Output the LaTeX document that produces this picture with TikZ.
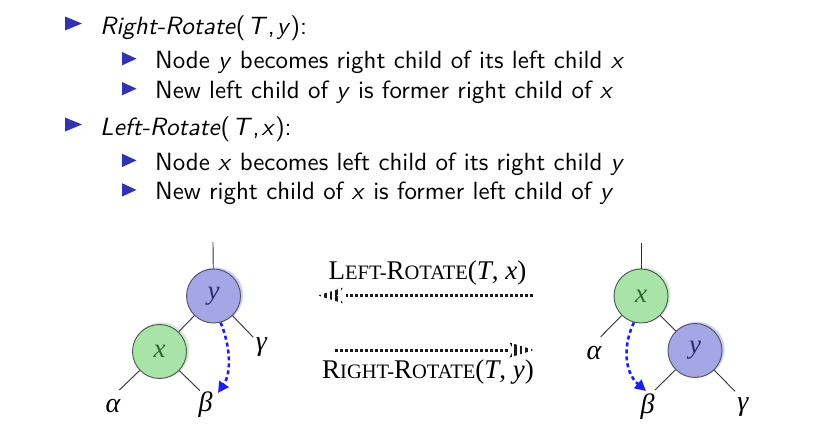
\documentclass[tikz,border=0pt]{standalone}
\usepackage{fontspec}
\setsansfont{lmsans10}[Extension=.otf, UprightFont=*-regular, ItalicFont=*-oblique, BoldFont=*-bold]
\newfontfamily\tms{Liberation Serif}
\usetikzlibrary{arrows.meta}
\definecolor{bstruct}{rgb}{0.2,0.2,0.7}
\definecolor{yfill}{HTML}{A4A6E6}
\definecolor{yhalo}{HTML}{CDCEF3}
\definecolor{ytext}{HTML}{2B2B6E}
\definecolor{xfill}{HTML}{A8E4A8}
\definecolor{xhalo}{HTML}{CDEFCD}
\definecolor{xtext}{HTML}{2A6A2A}
\definecolor{rimc}{HTML}{505058}
\definecolor{edgec}{HTML}{333333}
\definecolor{rotblue}{HTML}{1E1EF0}
\definecolor{dotc}{HTML}{1A1A1A}
\newcommand\scbig[1]{{\fontsize{27}{30}\selectfont #1}}
\begin{document}
\begin{tikzpicture}[x=1pt,y=-1pt,
  topitem/.style={anchor=base west, inner sep=0pt, font=\sffamily\fontsize{25}{30}\selectfont},
  subitem/.style={anchor=base west, inner sep=0pt, font=\sffamily\fontsize{24.9}{28}\selectfont},
  tnode/.style={circle, draw=rimc, line width=0.9pt, minimum size=54pt, inner sep=0pt, font=\tms\itshape\fontsize{27}{30}\selectfont},
  ynode/.style={tnode, fill=yfill, text=ytext},
  xnode/.style={tnode, fill=xfill, text=xtext},
  tedge/.style={draw=edgec, line width=0.9pt},
  greek/.style={anchor=base, inner sep=0pt, font=\tms\itshape\fontsize{28}{30}\selectfont},
  rotlabel/.style={anchor=base, inner sep=0pt, font=\tms\fontsize{20.5}{24}\selectfont},
  rotarrow/.style={draw=rotblue, line width=2.6pt, dash pattern=on 4pt off 3pt, -{Triangle[length=11pt,width=11pt]}},
  dotline/.style={draw=dotc, line width=3pt, dash pattern=on 2.8pt off 2.2pt},
]
\useasboundingbox[fill=white] (0,0) rectangle (827,437);

% bullets
\foreach \b in {34,135}{
  \fill[bstruct] (65,\b-17.5) -- (82,\b-10.5) -- (65,\b-3.5) -- cycle;
}
\foreach \b in {68.3,98.3,170,199.5}{
  \fill[bstruct] (122,\b-16.3) -- (136.5,\b-9.6) -- (122,\b-2.9) -- cycle;
}
\node[topitem] (t1) at (100,34) {\textit{Right-Rotate}(\kern0.08em\textit{T}\kern0.02em,\kern0.08em\textit{y}):};
\node[subitem] (s1) at (155,68.3) {Node \textit{y} becomes right child of its left child \textit{x}};
\node[subitem] (s2) at (155,98.3) {New left child of \textit{y} is former right child of \textit{x}};
\node[topitem] (t2) at (100,135) {\textit{Left-Rotate}(\kern0.08em\textit{T}\kern0.02em,\kern0.08em\textit{x}):};
\node[subitem] (s3) at (155,170) {Node \textit{x} becomes left child of its right child \textit{y}};
\node[subitem] (s4) at (155,199.5) {New right child of \textit{x} is former left child of \textit{y}};

% left tree
\fill[yhalo] (215.5,295) circle (27.6);
\fill[xhalo] (161.5,350.5) circle (28);
\node[ynode] (ly) at (213.5,296) {y};
\node[xnode] (lx) at (159.5,351.5) {x};
\coordinate (lytop) at (213,242);
\coordinate (laE) at (119.3,390);
\coordinate (lbE) at (200,390.7);
\coordinate (lgE) at (253.3,337.3);
\coordinate (lbT) at (218,393);
\draw[tedge] (ly) -- (lytop);
\draw[tedge] (ly) -- (lx);
\draw[tedge] (ly) -- (lgE);
\draw[tedge] (lx) -- (laE);
\draw[tedge] (lx) -- (lbE);
\node[greek] (la) at (113,412) {α};
\node[greek] (lb) at (205.5,411) {β};
\node[greek] (lg) at (261.5,350) {γ};
\draw[rotarrow] (ly.-75) .. controls (230,345) and (232,372) .. (lbT);

% right tree
\fill[xhalo] (643,295) circle (27.6);
\fill[yhalo] (697,349.5) circle (27.6);
\node[xnode] (rx) at (641,296) {x};
\node[ynode] (ry) at (695,350.5) {y};
\coordinate (rxtop) at (641,242.5);
\coordinate (raE) at (600.7,336.7);
\coordinate (rbE) at (655,390);
\coordinate (rgE) at (735,391.3);
\coordinate (rbT) at (646,391);
\draw[tedge] (rx) -- (rxtop);
\draw[tedge] (rx) -- (ry);
\draw[tedge] (rx) -- (raE);
\draw[tedge] (ry) -- (rbE);
\draw[tedge] (ry) -- (rgE);
\node[greek] (ra) at (594,359) {α};
\node[greek] (rb) at (647.5,413) {β};
\node[greek] (rg) at (743,410) {γ};
\draw[rotarrow] (rx.-105) .. controls (623,345) and (624,372) .. (rbT);

% rotation labels
\node[rotlabel] (lrot) at (427.5,279) {\scbig{L}EFT-\scbig{R}OTATE\scbig{(\textit{T}, \textit{x})}};
\node[rotlabel] (rrot) at (428,378) {\scbig{R}IGHT-\scbig{R}OTATE\scbig{(\textit{T}, \textit{y})}};

% left-rotate arrow (points left)
\coordinate (lA1) at (533,295.5);
\coordinate (lA2) at (345.5,295.5);
\draw[dotline] (lA1) -- (lA2);
\begin{scope}
  \clip (318,295.5) -- (343.5,287.5) -- (337,295.5) -- (343.5,303.5) -- cycle;
  \foreach \c in {320,325.5,331,336.5,342}{
    \fill[dotc] (\c-1.4,285) rectangle (\c+1.4,306);
  }
\end{scope}

% right-rotate arrow (points right)
\coordinate (rA1) at (335,350);
\coordinate (rA2) at (509,350);
\draw[dotline] (rA1) -- (rA2);
\begin{scope}
  \clip (534,350) -- (509.5,342.5) -- (513.5,350) -- (509.5,357.5) -- cycle;
  \foreach \c in {510.5,515.5,521,526.5,532}{
    \fill[dotc] (\c-1.4,340) rectangle (\c+1.4,360);
  }
\end{scope}
\end{tikzpicture}
\end{document}
